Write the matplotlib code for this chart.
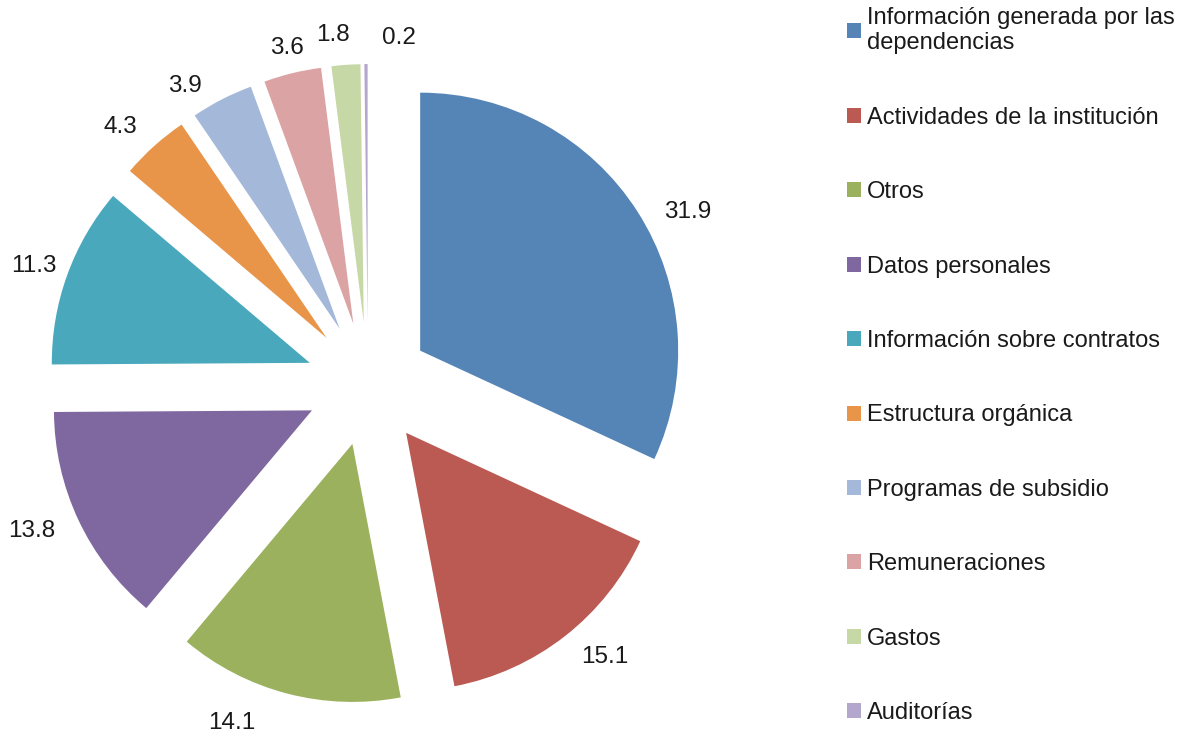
import matplotlib.pyplot as plt

plt.rcParams['font.family'] = ['Liberation Sans', 'DejaVu Sans']

# Data
categories = ['Información generada por las\ndependencias',
              'Actividades de la institución',
              'Otros',
              'Datos personales',
              'Información sobre contratos',
              'Estructura orgánica',
              'Programas de subsidio',
              'Remuneraciones',
              'Gastos',
              'Auditorías']
values = [31.9, 15.1, 14.1, 13.8, 11.3, 4.3, 3.9, 3.6, 1.8, 0.2]
colors = ['#5485B6', '#BB5A52', '#9BB15E', '#7F689F', '#4AA8BD',
          '#E8954A', '#A4B8DA', '#DBA3A3', '#C7D8A7', '#B4A7CD']

W, H = 1185, 741
cx, cy, R = 368, 384, 258  # pie centre and radius in pixels

fig = plt.figure(figsize=(W / 100, H / 100), dpi=100)
ax = fig.add_axes([0, 0, 1, 1])

wedges, texts = ax.pie(values, colors=colors, startangle=90, counterclock=False,
                       explode=[0.24] * len(values), radius=1,
                       labels=[f'{v:.1f}' for v in values], labeldistance=1.1,
                       textprops={'fontsize': 17.5, 'color': '#1a1a1a'})
texts[-1].set_ha('left')

# small nudges (pixels) so the labels sit where Excel put them
nudge = {0: (5, 14), 2: (-26, 4), 4: (14, 0), 6: (-8, 10), 7: (18, 0), 8: (6, -4), 9: (16, 0)}
for i, (dx, dy) in nudge.items():
    x, y = texts[i].get_position()
    texts[i].set_position((x + dx / R, y - dy / R))

ax.set_xlim(-cx / R, (W - cx) / R)
ax.set_ylim(-(H - cy) / R, cy / R)
ax.set_aspect('auto')
ax.axis('off')

leg = fig.legend(wedges, categories, loc='upper left',
                 bbox_to_anchor=(847 / W, 1 - 7 / H), frameon=False,
                 fontsize=17, handlelength=0.6, handleheight=0.6,
                 handletextpad=0.25, labelspacing=2.22, borderpad=0,
                 borderaxespad=0, labelcolor='#1a1a1a')

plt.savefig('out.png', dpi=100)
